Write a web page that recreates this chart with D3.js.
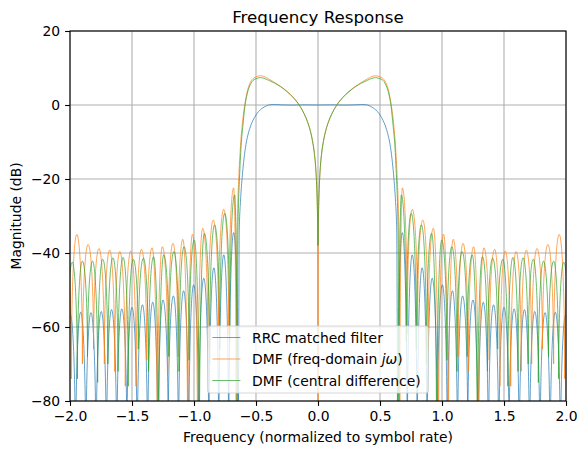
<!DOCTYPE html>
<html>
<head>
<meta charset="utf-8">
<script src="https://cdn.jsdelivr.net/npm/d3@7"></script>
<style>
  html, body { margin: 0; padding: 0; background: #fff; }
  svg { display: block; font-family: "DejaVu Sans", sans-serif; }
</style>
</head>
<body>
<svg id="chart" width="586" height="454"></svg>
<script>
// ---------------- DATA (spectra are symmetric, positive half given) ----------------
const seriesNames = ["RRC matched filter", "DMF (freq-domain jω)", "DMF (central difference)"];
const xTickValues = [-2.0, -1.5, -1.0, -0.5, 0.0, 0.5, 1.0, 1.5, 2.0];
const yTickValues = [-80, -60, -40, -20, 0, 20];

// Main lobe, f >= 0 : [frequency, dB]
const rrcMain = [[0,0.0],[0.05,0.02],[0.1,0.04],[0.15,0.02],[0.2,-0.02],[0.25,0.0],[0.3,0.05],[0.35,0.12],[0.38,0.1],
  [0.4,0.0],[0.42,-0.3],[0.45,-0.9],[0.48,-1.8],[0.5,-2.7],[0.525,-4.2],[0.55,-6.3],[0.57,-8.8],[0.585,-11.5],
  [0.6,-15.5],[0.612,-19.8],[0.625,-26],[0.635,-34],[0.642,-100]];
const dmfJwMain = [[0,-100],[0.002,-37],[0.005,-28.5],[0.01,-22.5],[0.02,-16.3],[0.03,-12.9],[0.045,-9.6],[0.065,-6.6],
  [0.085,-4.5],[0.11,-2.5],[0.15,-0.1],[0.2,2.1],[0.25,3.7],[0.3,5.0],[0.35,6.1],[0.4,7.1],[0.435,7.7],[0.464,7.9],
  [0.5,7.6],[0.531,6.9],[0.55,5.8],[0.571,3.6],[0.59,0.2],[0.611,-5.4],[0.625,-11],[0.639,-19.8],[0.648,-28],
  [0.655,-40],[0.660,-100]];
const dmfCdMain = [[0,-38],[0.002,-33],[0.005,-28],[0.01,-22.5],[0.02,-16.3],[0.03,-12.9],[0.045,-9.6],[0.065,-6.6],
  [0.085,-4.5],[0.11,-2.5],[0.15,-0.1],[0.2,2.0],[0.25,3.6],[0.3,4.9],[0.35,5.9],[0.4,6.7],[0.435,7.2],[0.464,7.4],
  [0.5,7.1],[0.531,6.4],[0.55,5.2],[0.571,3.0],[0.59,-0.5],[0.605,-5.4],[0.62,-11],[0.633,-19.8],[0.642,-28],
  [0.648,-40],[0.652,-100]];

// Sidelobes, f > 0 : alternating null / peak points [frequency, dB]
const rrcSide = [[0.642,-100],[0.680,-34.5],[0.720,-100],[0.760,-40.5],[0.800,-100],[0.840,-44.0],[0.880,-100],
  [0.921,-46.8],[0.962,-95],[1.003,-48.6],[1.043,-100],[1.084,-50.2],[1.125,-100],[1.166,-51.6],[1.208,-92],
  [1.250,-52.7],[1.291,-100],[1.333,-53.3],[1.374,-100],[1.416,-54.0],[1.458,-100],[1.500,-54.7],[1.541,-95],
  [1.582,-55.1],[1.623,-100],[1.665,-55.3],[1.706,-100],[1.748,-55.8],[1.790,-100],[1.831,-56.1],[1.872,-100],
  [1.914,-56.0],[1.955,-100],[1.997,-56.8],[2.040,-100]];
const dmfJwSide = [[0.660,-100],[0.680,-22.4],[0.720,-62],[0.760,-28.2],[0.803,-60],[0.845,-31.1],[0.888,-66],
  [0.930,-33.3],[0.971,-100],[1.012,-34.9],[1.051,-100],[1.090,-36.3],[1.130,-68],[1.170,-37.4],[1.212,-72],
  [1.255,-38.3],[1.296,-100],[1.338,-38.6],[1.381,-69],[1.424,-39.0],[1.467,-76],[1.510,-39.5],[1.554,-76],
  [1.598,-39.6],[1.639,-72],[1.680,-39.2],[1.723,-70],[1.766,-38.8],[1.810,-66],[1.854,-37.7],[1.900,-70],
  [1.945,-35.0],[1.990,-74],[2.035,-35.5],[2.080,-80]];
const dmfCdSide = [[0.652,-100],[0.672,-24.3],[0.712,-64],[0.752,-29.3],[0.793,-66],[0.834,-32.4],[0.875,-70],
  [0.916,-34.7],[0.957,-100],[0.998,-36.5],[1.039,-69],[1.080,-38.3],[1.121,-72],[1.162,-39.6],[1.203,-68],
  [1.244,-40.5],[1.285,-100],[1.326,-41.0],[1.367,-72],[1.408,-41.4],[1.449,-66],[1.490,-41.7],[1.531,-76],
  [1.572,-41.2],[1.613,-72],[1.654,-41.3],[1.695,-70],[1.736,-41.7],[1.777,-75],[1.818,-42.2],[1.859,-68],
  [1.900,-42.2],[1.941,-74],[1.982,-42.5],[2.023,-70],[2.064,-42.5]];

const seriesColors = ["#1f77b4", "#ff7f0e", "#2ca02c"];

// ---------------- LAYOUT ----------------
const svg = d3.select("#chart");
const L = 70, R = 566, T = 31, B = 401;
const x = d3.scaleLinear().domain([-2, 2]).range([L, R]);
const y = d3.scaleLinear().domain([-80, 20]).range([B, T]);
const fmtMinus = s => s.replace("-", "\u2212");

// grid
const grid = svg.append("g");
grid.selectAll("line.gx").data(xTickValues).join("line")
  .attr("x1", d => x(d)).attr("x2", d => x(d)).attr("y1", T).attr("y2", B)
  .attr("stroke", "#b0b0b0").attr("stroke-width", 1.1);
grid.selectAll("line.gy").data(yTickValues).join("line")
  .attr("y1", d => y(d)).attr("y2", d => y(d)).attr("x1", L).attr("x2", R)
  .attr("stroke", "#b0b0b0").attr("stroke-width", 1.1);

// clip
svg.append("defs").append("clipPath").attr("id", "plotclip")
  .append("rect").attr("x", L).attr("y", T).attr("width", R - L).attr("height", B - T);

// arch curve: vertical tangent at nulls, horizontal tangent at peaks
function curveArch(context) {
  let pts = [];
  return {
    areaStart() {}, areaEnd() {},
    lineStart() { pts = []; },
    point(px, py) { pts.push([+px, +py]); },
    lineEnd() {
      if (!pts.length) return;
      context.moveTo(pts[0][0], pts[0][1]);
      const k = 0.55;
      for (let i = 1; i < pts.length; i++) {
        const [ax, ay] = pts[i - 1], [bx, by] = pts[i];
        let c1x, c1y, c2x, c2y;
        if (ay > by) { c1x = ax; c1y = ay + (by - ay) * k; c2x = bx - (bx - ax) * k; c2y = by; }
        else { c1x = ax + (bx - ax) * k; c1y = ay; c2x = bx; c2y = by + (ay - by) * k; }
        context.bezierCurveTo(c1x, c1y, c2x, c2y, bx, by);
      }
    }
  };
}

const mirrorFull = half => half.filter(d => d[0] > 0).map(d => [-d[0], d[1]]).reverse().concat(half);
const mirrorLeft = side => side.map(d => [-d[0], d[1]]).reverse();

const mainLine = d3.line().x(d => x(d[0])).y(d => y(d[1])).curve(d3.curveMonotoneX);
const sideLine = d3.line().x(d => x(d[0])).y(d => y(d[1])).curve(curveArch);

const plot = svg.append("g").attr("clip-path", "url(#plotclip)");
const allSeries = [
  { main: rrcMain, side: rrcSide },
  { main: dmfJwMain, side: dmfJwSide },
  { main: dmfCdMain, side: dmfCdSide }
];
allSeries.forEach((s, i) => {
  const g = plot.append("g").attr("fill", "none").attr("stroke", seriesColors[i])
    .attr("stroke-width", 0.7).attr("stroke-linejoin", "round");
  g.append("path").attr("d", mainLine(mirrorFull(s.main)));
  g.append("path").attr("d", sideLine(s.side));
  g.append("path").attr("d", sideLine(mirrorLeft(s.side)));
});

// spines
svg.append("rect").attr("x", L).attr("y", T).attr("width", R - L).attr("height", B - T)
  .attr("fill", "none").attr("stroke", "#000").attr("stroke-width", 1.1);

// axes ticks
const xAxis = d3.axisBottom(x).tickValues(xTickValues).tickSizeInner(4.9).tickSizeOuter(0).tickPadding(4.9)
  .tickFormat(d => fmtMinus(d3.format(".1f")(d)));
const yAxis = d3.axisLeft(y).tickValues(yTickValues).tickSizeInner(4.9).tickSizeOuter(0).tickPadding(4.9)
  .tickFormat(d => fmtMinus(String(d)));
const gx = svg.append("g").attr("transform", `translate(0,${B})`).call(xAxis);
const gy = svg.append("g").attr("transform", `translate(${L},0)`).call(yAxis);
[gx, gy].forEach(g => {
  g.select(".domain").remove();
  g.selectAll(".tick line").attr("stroke", "#000").attr("stroke-width", 1.1);
  g.selectAll(".tick text").attr("fill", "#000").attr("font-size", "13.9px").attr("font-family", "DejaVu Sans");
});

// labels
svg.append("text").attr("x", (L + R) / 2).attr("y", 22.7).attr("text-anchor", "middle")
  .attr("font-size", "16.7px").attr("fill", "#000").text("Frequency Response");
svg.append("text").attr("x", (L + R) / 2).attr("y", 442).attr("text-anchor", "middle")
  .attr("font-size", "13.9px").attr("fill", "#000").text("Frequency (normalized to symbol rate)");
svg.append("text").attr("transform", `translate(21,${(T + B) / 2}) rotate(-90)`).attr("text-anchor", "middle")
  .attr("font-size", "13.9px").attr("fill", "#000").text("Magnitude (dB)");

// legend
const legend = svg.append("g");
const rowsY = [337.5, 359, 380.5];
const box = legend.append("rect").attr("y", 326).attr("height", 67).attr("rx", 2.8)
  .attr("fill", "#fff").attr("fill-opacity", 0.8).attr("stroke", "#cccccc").attr("stroke-opacity", 0.8).attr("stroke-width", 1.1);
const items = legend.append("g");
const textEls = [];
seriesNames.forEach((name, i) => {
  items.append("line").attr("x1", 0).attr("x2", 28).attr("y1", rowsY[i]).attr("y2", rowsY[i])
    .attr("stroke", seriesColors[i]).attr("stroke-width", 0.7);
  const t = items.append("text").attr("x", 39.7).attr("y", rowsY[i] + 5).attr("font-size", "13.9px").attr("fill", "#000");
  if (name.indexOf("jω") >= 0) {
    t.append("tspan").text("DMF (freq-domain ");
    t.append("tspan").attr("font-style", "italic").text("jω");
    t.append("tspan").text(")");
  } else {
    t.text(name);
  }
  textEls.push(t);
});
const maxW = d3.max(textEls, t => t.node().getComputedTextLength());
const boxW = 4.7 + 39.7 + maxW + 7.6;
const boxX = (L + R) / 2 - boxW / 2;
box.attr("x", boxX).attr("width", boxW);
items.attr("transform", `translate(${boxX + 4.7},0)`);
</script>
</body>
</html>
